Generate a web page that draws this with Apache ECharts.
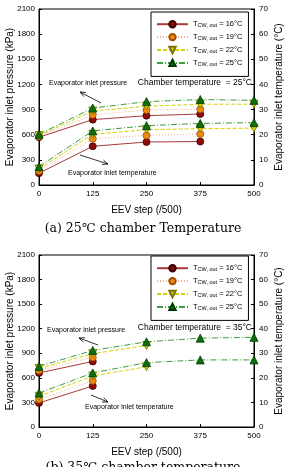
<!DOCTYPE html>
<html>
<head>
<meta charset="utf-8">
<script src="https://cdn.jsdelivr.net/npm/echarts@6/dist/echarts.min.js"></script>
<style>
  html, body { margin: 0; padding: 0; background: #fff; }
  #chart { width: 286px; height: 467px; }
</style>
</head>
<body>
<div id="chart"></div>
<script>
// x axis: EEV step
const eevSteps = [0, 125, 250, 375, 500];
const coolingTemps = ['16', '19', '22', '25'];

// (a) chamber 25C - evaporator inlet pressure (kPa)
const p25_16 = [570, 780, 827, 847, null];
const p25_19 = [580, 838, 895, 903, null];
const p25_22 = [590, 883, 940, 963, 965];
const p25_25 = [605, 918, 995, 1020, 1010];
// (a) chamber 25C - evaporator inlet temperature (C)
const t25_16 = [4.7, 15.4, 17.1, 17.3, null];
const t25_19 = [5.6, 18.4, 19.7, 20.3, null];
const t25_22 = [6.4, 20.2, 22.0, 22.4, 22.6];
const t25_25 = [7.3, 21.5, 23.6, 24.5, 24.8];

// (b) chamber 35C - evaporator inlet pressure (kPa)
const p35_16 = [660, 800, null, null, null];
const p35_19 = [690, 850, null, null, null];
const p35_22 = [715, 895, 995, null, null];
const p35_25 = [740, 935, 1040, 1085, 1095];
// (b) chamber 35C - evaporator inlet temperature (C)
const t35_16 = [9.8, 16.7, null, null, null];
const t35_19 = [11.2, 18.8, null, null, null];
const t35_22 = [12.5, 20.8, 24.5, null, null];
const t35_25 = [13.8, 22.0, 26.2, 27.3, 27.3];

const FONT = '"Liberation Sans", Arial, sans-serif';

// one look per cooling water temperature
const styles = {
    '16': { symbol: 'circle', size: 7, rotate: 0, fill: '#8b0a0a', edge: '#3c0000', line: '#a83a3a', dash: 'solid' },
    '19': { symbol: 'circle', size: 7, rotate: 0, fill: '#f28a10', edge: '#9a5000', line: '#f3ac90', dash: [1, 2] },
    '22': { symbol: 'triangle', size: 8, rotate: 180, fill: '#d6d000', edge: '#7a7400', line: '#d8d200', dash: [4, 2] },
    '25': { symbol: 'triangle', size: 8, rotate: 0, fill: '#0c6e0c', edge: '#003c00', line: '#3c9e3c', dash: [6, 2, 1, 2] }
};

const seriesName = t => 'T_CW,out = ' + t + '°C';

const makeSeries = (temp, values, xAxisIndex, yAxisIndex) => {
    const s = styles[temp];
    return {
        name: seriesName(temp),
        type: 'line',
        xAxisIndex: xAxisIndex,
        yAxisIndex: yAxisIndex,
        symbol: s.symbol,
        symbolSize: s.size,
        symbolRotate: s.rotate,
        connectNulls: false,
        animation: false,
        itemStyle: { color: s.fill, borderColor: s.edge, borderWidth: 0.8 },
        lineStyle: { color: s.line, width: 1, type: s.dash },
        data: eevSteps.map((x, i) => [x, values[i]])
    };
};

const sets = [
    // [temp, values, xAxisIndex, yAxisIndex]
    ['16', p25_16, 0, 0], ['19', p25_19, 0, 0], ['22', p25_22, 0, 0], ['25', p25_25, 0, 0],
    ['16', t25_16, 0, 1], ['19', t25_19, 0, 1], ['22', t25_22, 0, 1], ['25', t25_25, 0, 1],
    ['16', p35_16, 1, 2], ['19', p35_19, 1, 2], ['22', p35_22, 1, 2], ['25', p35_25, 1, 2],
    ['16', t35_16, 1, 3], ['19', t35_19, 1, 3], ['22', t35_22, 1, 3], ['25', t35_25, 1, 3]
];
let series = sets.map(s => makeSeries(s[0], s[1], s[2], s[3]));

const axisLabel = { color: '#000', fontSize: 8, fontFamily: FONT, formatter: v => String(v) };
const axisTick = { inside: true, length: 3, lineStyle: { color: '#000' } };
const axisLine = { show: true, lineStyle: { color: '#000', width: 1 } };

const xAxisFor = (gridIndex) => ({
    type: 'value', gridIndex: gridIndex, min: 0, max: 500, interval: 125,
    name: 'EEV step (/500)', nameLocation: 'middle', nameGap: 20, nameMoveOverlap: false,
    nameTextStyle: { color: '#000', fontSize: 10, fontFamily: FONT },
    axisLine: axisLine, axisTick: axisTick, splitLine: { show: false },
    axisLabel: Object.assign({ margin: 5 }, axisLabel)
});

const pressureAxis = (gridIndex) => ({
    type: 'value', gridIndex: gridIndex, position: 'left', min: 0, max: 2100, interval: 300,
    name: 'Evaporator inlet pressure (kPa)', nameLocation: 'middle', nameGap: 24, nameRotate: 90,
    nameMoveOverlap: false,
    nameTextStyle: { color: '#000', fontSize: 10, fontFamily: FONT },
    axisLine: axisLine, axisTick: axisTick, splitLine: { show: false },
    axisLabel: Object.assign({ margin: 4 }, axisLabel)
});

const tempAxis = (gridIndex) => ({
    type: 'value', gridIndex: gridIndex, position: 'right', min: 0, max: 70, interval: 10,
    name: 'Evaporator inlet temperature (°C)', nameLocation: 'middle', nameGap: 20, nameRotate: 90,
    nameMoveOverlap: false,
    nameTextStyle: { color: '#000', fontSize: 10, fontFamily: FONT },
    axisLine: axisLine, axisTick: axisTick, splitLine: { show: false },
    axisLabel: Object.assign({ margin: 5 }, axisLabel)
});

const legendFor = (top) => ({
    top: top, left: 151, orient: 'vertical',
    data: coolingTemps.map(seriesName),
    itemWidth: 31, itemHeight: 8, itemGap: 4.2,
    padding: [8, 6, 9, 5],
    borderColor: '#000', borderWidth: 1, backgroundColor: '#fff',
    selectedMode: false,
    formatter: name => {
        const t = name.match(/= (\d+)/)[1];
        return '{t|T}{s|CW, out}{t| = ' + t + '°C}';
    },
    textStyle: {
        rich: {
            t: { fontSize: 7.5, fontFamily: FONT, color: '#000' },
            s: { fontSize: 5.5, fontFamily: FONT, color: '#000', padding: [3, 0, 0, 0] }
        }
    }
});

// arrow from tail (x1,y1) to head (x2,y2)
function arrow(x1, y1, x2, y2) {
    const a = Math.atan2(y2 - y1, x2 - x1), L = 6, w = 0.4;
    return [
        { type: 'line', shape: { x1: x1, y1: y1, x2: x2, y2: y2 }, style: { stroke: '#000', lineWidth: 0.8 } },
        { type: 'polyline', shape: { points: [
            [x2 - L * Math.cos(a - w), y2 - L * Math.sin(a - w)], [x2, y2],
            [x2 - L * Math.cos(a + w), y2 - L * Math.sin(a + w)]] },
          style: { stroke: '#000', fill: null, lineWidth: 0.8 } }
    ];
}

const note = (x, y, text, size, align) => ({
    type: 'text', x: x, y: y,
    style: { text: text, fontSize: size, fontFamily: FONT, fill: '#000', align: align || 'left', verticalAlign: 'middle' }
});

const caption = (y, text) => ({
    type: 'text', x: 143, y: y,
    style: { text: text, fontSize: 12.5, fontFamily: '"DejaVu Serif", "Liberation Serif", serif', fill: '#000',
             align: 'center', verticalAlign: 'middle' }
});

const graphic = [].concat(
    note(49, 83, 'Evaporator inlet pressure', 7),
    arrow(101, 103, 80, 92),
    note(68, 173, 'Evaporator inlet temperature', 7),
    arrow(80, 155, 108, 164),
    note(252, 83, 'Chamber temperature  = 25°C', 8.5, 'right'),
    caption(229, '(a) 25℃ chamber Temperature'),

    note(47, 330, 'Evaporator inlet pressure', 7),
    arrow(98, 345, 79, 338),
    note(85, 407, 'Evaporator inlet temperature', 7),
    arrow(91, 395, 108, 402),
    note(252, 328, 'Chamber temperature  = 35°C', 8.5, 'right'),
    caption(468, '(b) 35℃ chamber temperature')
);

let myChart = echarts.init(document.getElementById('chart'), null, { renderer: 'canvas' });
let option = {
    backgroundColor: '#fff',
    animation: false,
    grid: [
        { left: 39, top: 9, width: 215, height: 176, show: true, borderColor: '#000', borderWidth: 1, outerBoundsMode: 'none' },
        { left: 39, top: 255, width: 215, height: 172, show: true, borderColor: '#000', borderWidth: 1, outerBoundsMode: 'none' }
    ],
    legend: [legendFor(12), legendFor(256)],
    xAxis: [xAxisFor(0), xAxisFor(1)],
    yAxis: [pressureAxis(0), tempAxis(0), pressureAxis(1), tempAxis(1)],
    graphic: graphic,
    series: series
};
myChart.setOption(option, true);
</script>
</body>
</html>
